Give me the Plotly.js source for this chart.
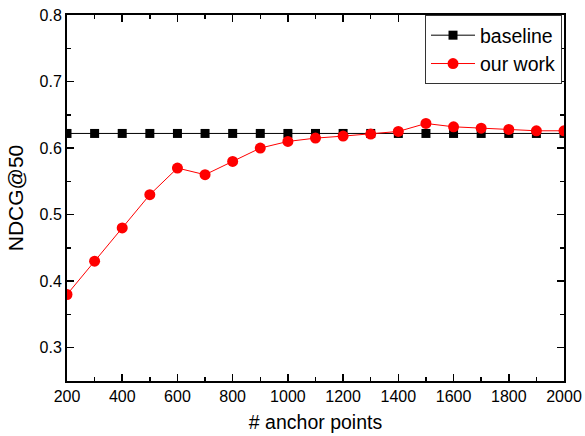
<!DOCTYPE html>
<html>
<head>
<meta charset="utf-8">
<script src="https://cdn.plot.ly/plotly-3.0.1.min.js"></script>
<style>html,body{margin:0;padding:0;background:#fff;}#chart{width:585px;height:436px;}</style>
</head>
<body>
<div id="chart"></div>
<script>
const anchorPoints = [200,300,400,500,600,700,800,900,1000,1100,1200,1300,1400,1500,1600,1700,1800,1900,2000];
const baseline = [0.622,0.622,0.622,0.622,0.622,0.622,0.622,0.622,0.622,0.622,0.622,0.622,0.622,0.622,0.622,0.622,0.622,0.622,0.622];
const ourWork = [0.380,0.430,0.480,0.530,0.570,0.560,0.580,0.600,0.610,0.615,0.618,0.621,0.625,0.637,0.632,0.630,0.628,0.626,0.626];
const xTicks = [200,400,600,800,1000,1200,1400,1600,1800,2000];
const yTicks = [0.3,0.4,0.5,0.6,0.7,0.8];

const font = 'Liberation Sans, Arial, sans-serif';
const traces = [
  {x: anchorPoints, y: baseline, name: 'baseline', type: 'scatter', mode: 'lines+markers',
   line: {color: '#000', width: 1}, marker: {symbol: 'square', size: 9, color: '#000'}},
  {x: anchorPoints, y: ourWork, name: 'our work', type: 'scatter', mode: 'lines+markers',
   line: {color: '#ff0000', width: 1}, marker: {symbol: 'circle', size: 11, color: '#ff0000'}}
];
const axisCommon = {
  showline: true, linecolor: '#000', linewidth: 2, mirror: 'ticks', showgrid: false, zeroline: false,
  ticks: 'inside', ticklen: 7, tickwidth: 1.5, tickcolor: '#000',
  tickfont: {family: font, size: 16, color: '#000'}
};
const layout = {
  width: 585, height: 436,
  margin: {l: 67, r: 21, t: 15, b: 55},
  paper_bgcolor: '#fff', plot_bgcolor: '#fff',
  showlegend: true,
  xaxis: Object.assign({}, axisCommon, {
    range: [200, 2000], tickvals: xTicks, ticktext: xTicks.map(String),
    minor: {dtick: 100, tick0: 200, ticks: 'inside', ticklen: 4, tickwidth: 1.5, tickcolor: '#000'},
    title: {text: '# anchor points', font: {family: font, size: 19.5, color: '#000'}, standoff: 11}
  }),
  yaxis: Object.assign({}, axisCommon, {
    range: [0.25, 0.8], tickvals: yTicks, ticktext: yTicks.map(v => v.toFixed(1)),
    minor: {dtick: 0.05, tick0: 0.25, ticks: 'inside', ticklen: 4, tickwidth: 1.5, tickcolor: '#000'},
    title: {text: 'NDCG@50', font: {family: font, size: 21, color: '#000'}, standoff: 10}
  }),
  legend: {
    x: 0.996, y: 1.0, xanchor: 'right', yanchor: 'top',
    bgcolor: '#fff', bordercolor: '#333', borderwidth: 1,
    font: {family: font, size: 19.5, color: '#000'},
    itemwidth: 44, tracegroupgap: 0
  }
};
Plotly.newPlot('chart', traces, layout, {displayModeBar: false, staticPlot: true});
</script>
</body>
</html>
